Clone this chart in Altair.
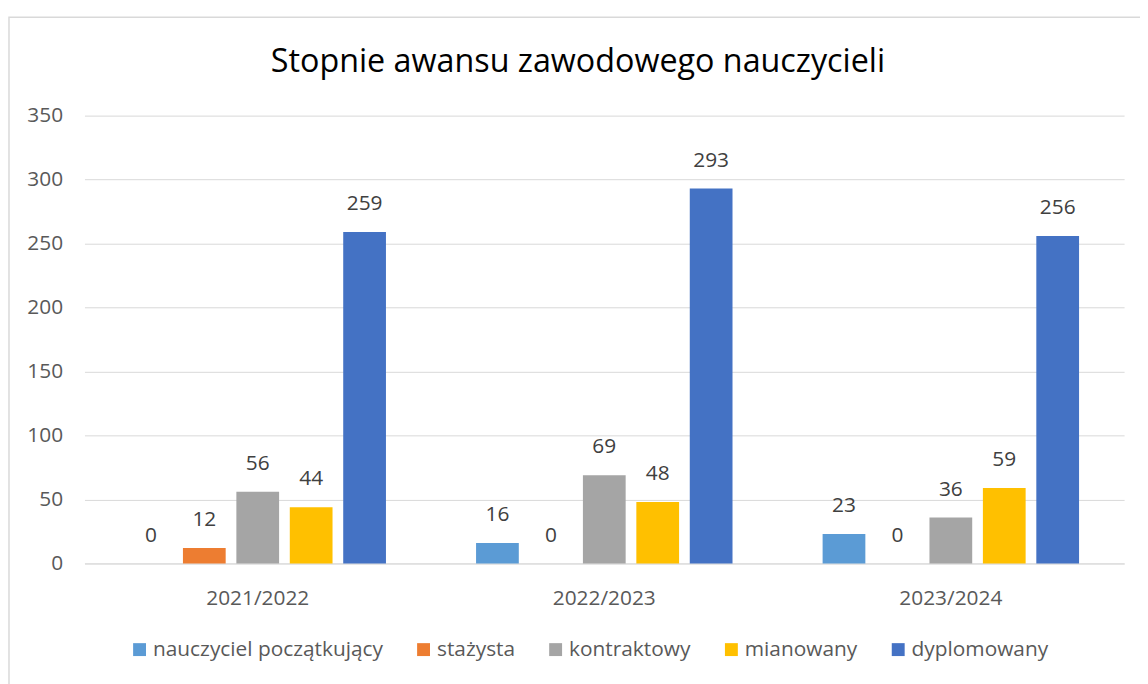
import altair as alt
import pandas as pd

years = ["2021/2022", "2022/2023", "2023/2024"]
series = ["nauczyciel początkujący", "stażysta", "kontraktowy", "mianowany", "dyplomowany"]
colors = ["#5B9BD5", "#ED7D31", "#A5A5A5", "#FFC000", "#4472C4"]
values = {
    "nauczyciel początkujący": [0, 16, 23],
    "stażysta": [12, 0, 0],
    "kontraktowy": [56, 69, 36],
    "mianowany": [44, 48, 59],
    "dyplomowany": [259, 293, 256],
}
title_text = "Stopnie awansu zawodowego nauczycieli"

rows = []
for s in series:
    for y, v in zip(years, values[s]):
        rows.append({"rok": y, "stopien": s, "liczba": v})
df = pd.DataFrame(rows)

FONT = "Open Sans"
FS = 21

x = alt.X("rok:N", sort=years, title=None,
          scale=alt.Scale(paddingInner=0.26, paddingOuter=0.13),
          axis=alt.Axis(labelAngle=0, labelFontSize=FS, labelColor="#595959", labelFont=FONT,
                        domainColor="#d9d9d9", ticks=False, labelPadding=24, domainWidth=1))
y = alt.Y("liczba:Q", title=None,
          scale=alt.Scale(domain=[0, 350], nice=False),
          axis=alt.Axis(values=[0, 50, 100, 150, 200, 250, 300, 350], labelFontSize=FS,
                        labelColor="#595959", labelFont=FONT, domain=False, ticks=False,
                        gridColor="#d9d9d9", labelPadding=22))
xo = alt.XOffset("stopien:N", sort=series,
                 scale=alt.Scale(paddingInner=0.2, paddingOuter=0))
color = alt.Color("stopien:N", sort=series,
                  scale=alt.Scale(domain=series, range=colors),
                  legend=alt.Legend(title=None, orient="none", direction="horizontal",
                                    legendX=45, legendY=527, symbolType="square",
                                    symbolSize=169, symbolStrokeWidth=0, labelLimit=0,
                                    labelFontSize=FS, labelColor="#595959", labelFont=FONT,
                                    columnPadding=30, symbolOffset=0, labelOffset=3))

base = alt.Chart(df)
bars = base.mark_bar().encode(x=x, y=y, xOffset=xo, color=color)
labels = base.mark_text(dy=-28, fontSize=FS, color="#404040", font=FONT).encode(
    x=x, y=y, xOffset=xo, text="liczba:Q")

one = pd.DataFrame({"t": [title_text]})
border = alt.Chart(one).mark_rect(
    fill=None, stroke="#d9d9d9", strokeWidth=1.5).encode(
    x=alt.value(-76), x2=alt.value(1100), y=alt.value(-99), y2=alt.value(600))
title = alt.Chart(one).mark_text(fontSize=32.5, font=FONT, color="#000000",
                                 align="center", baseline="middle").encode(
    x=alt.value(497), y=alt.value(-54), text="t:N")

chart = alt.layer(border, bars, labels, title).properties(
    width=1047, height=451,
    autosize=alt.AutoSizeParams(type="none"),
    padding={"left": 77, "top": 106, "right": 16, "bottom": 119},
).configure(background="white").configure_view(stroke=None)

chart.save("out.html", embed_options={"renderer": "svg", "actions": False})
